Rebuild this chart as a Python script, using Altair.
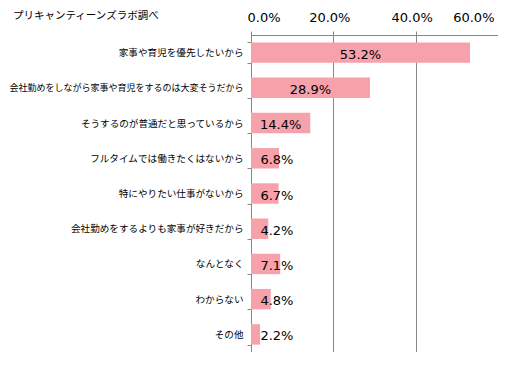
import altair as alt
import pandas as pd

categories = [
    "家事や育児を優先したいから",
    "会社勤めをしながら家事や育児をするのは大変そうだから",
    "そうするのが普通だと思っているから",
    "フルタイムでは働きたくはないから",
    "特にやりたい仕事がないから",
    "会社勤めをするよりも家事が好きだから",
    "なんとなく",
    "わからない",
    "その他",
]
values = [53.2, 28.9, 14.4, 6.8, 6.7, 4.2, 7.1, 4.8, 2.2]
tick_values = [0, 20, 40, 60]
title_text = "プリキャンティーンズラボ調べ"

df = pd.DataFrame({"cat": categories, "v": values})

ycat = alt.Y(
    "cat:N",
    sort=categories,
    title=None,
    scale=alt.Scale(paddingInner=0.42, paddingOuter=0.21),
    axis=alt.Axis(
        tickBand="extent",
        labelFont="Noto Sans CJK JP",
        labelFontSize=alt.expr("length(datum.label) > 20 ? 9 : 9.6"),
        labelColor="#000000",
        labelPadding=4,
        labelLimit=300,
        tickSize=4,
        tickColor="#888888",
        domainColor="#888888",
        grid=False,
    ),
)

bars = alt.Chart(df).mark_bar(color="#F7A1AA").encode(
    x=alt.X(
        "v:Q",
        title=None,
        scale=alt.Scale(domain=[0, 60], nice=False),
        axis=alt.Axis(
            orient="top",
            values=tick_values,
            labelExpr="format(datum.value, '.1f') + '%'",
            labelFont="DejaVu Sans",
            labelFontSize=13,
            labelColor="#000000",
            labelOffset=-4,
            labelPadding=7,
            tickSize=4,
            tickColor="#888888",
            domainColor="#888888",
            grid=True,
            gridColor="#888888",
            gridOpacity=1,
        ),
    ),
    y=ycat,
)

labels = alt.Chart(df).transform_calculate(
    lx="max(datum.v / 2, 6.3)",
    lab="format(datum.v, '.1f') + '%'",
).mark_text(
    font="DejaVu Sans", fontSize=13, color="#000000", align="center", baseline="middle", dy=2
).encode(
    x=alt.X("lx:Q"),
    y=alt.Y("cat:N", sort=categories),
    text="lab:N",
)

chart = (
    alt.layer(bars, labels)
    .properties(
        width=247,
        height=317,
        autosize=alt.AutoSizeParams(type="none"),
        padding={"left": 243, "top": 27, "right": 0, "bottom": 0},
        title=alt.TitleParams(
            title_text,
            anchor="start",
            frame="group",
            font="Noto Sans CJK JP",
            fontSize=10.5,
            fontWeight="normal",
            color="#000000",
            dx=-238,
            dy=14,
        ),
    )
    .configure_view(stroke=None)
    .configure(background="#ffffff")
)

chart.save("out.html", embed_options={"renderer": "svg", "actions": False})
